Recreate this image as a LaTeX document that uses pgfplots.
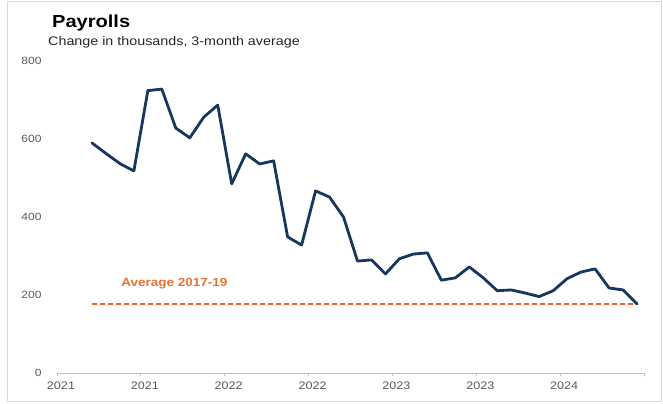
\documentclass[border=0pt]{standalone}
\usepackage{pgfplots}
\pgfplotsset{compat=1.18}
\usepackage{fontspec}
\setmainfont[FakeStretch=1.15]{Liberation Sans}
\definecolor{navy}{HTML}{17375E}
\definecolor{avgred}{RGB}{235,95,50}
\definecolor{orangetext}{HTML}{E97132}
\definecolor{ticktext}{HTML}{595959}
\definecolor{axisgray}{HTML}{BFBFBF}
\begin{document}
\begin{tikzpicture}[x=1bp,y=1bp]
\useasboundingbox (0,0) rectangle (663,403);
\draw[color=black!15, line width=1bp] (7,2) rectangle (661,401);
\node[anchor=base west, inner sep=0pt, font=\fontsize{17.5}{20}\selectfont\bfseries] at (52,376) {Payrolls};
\node[anchor=base west, inner sep=0pt, font=\fontsize{12.5}{14}\selectfont, text=black!85] at (48,358) {Change in thousands, 3-month average};
\begin{axis}[
  at={(57bp,30bp)}, anchor=south west,
  scale only axis, width=587bp, height=312bp,
  xmin=0, xmax=42, ymin=0, ymax=800,
  axis x line*=bottom, axis y line*=left,
  x axis line style={draw=axisgray, line width=1bp, -},
  y axis line style={draw=none},
  xtick={0,6,12,18,24,30,36,42},
  xticklabels={2021,2021,2022,2022,2023,2023,2024,},
  xtick style={draw=axisgray, line width=0.8bp},
  major tick length=3bp, tick align=outside,
  xticklabel style={font=\fontsize{11}{12}\selectfont, text=ticktext, xshift=4bp, yshift=-2bp},
  ytick={0,200,400,600,800},
  ytick style={draw=none},
  yticklabel style={font=\fontsize{10.5}{12}\selectfont, text=ticktext, xshift=-9bp},
  /pgf/number format/assume math mode=true,
  clip=false,
]
\addplot[color=avgred, solid, line width=2bp, dash pattern=on 5bp off 3bp, mark=none] coordinates {(2.5,178) (41.5,178)};
\addplot[color=navy, line width=2.8bp, line join=round, line cap=round, mark=none] coordinates {
(2.5,590)(3.5,563)(4.5,537)(5.5,518)(6.5,724)(7.5,728)(8.5,628)(9.5,603)(10.5,656)(11.5,687)
(12.5,485)(13.5,562)(14.5,536)(15.5,544)(16.5,349)(17.5,328)(18.5,467)(19.5,451)(20.5,400)(21.5,287)
(22.5,290)(23.5,254)(24.5,293)(25.5,305)(26.5,308)(27.5,238)(28.5,244)(29.5,272)(30.5,244)(31.5,211)
(32.5,213)(33.5,205)(34.5,196)(35.5,211)(36.5,242)(37.5,259)(38.5,267)(39.5,218)(40.5,213)(41.5,177)};
\node[anchor=base, font=\fontsize{11.8}{13}\selectfont\bfseries, text=orangetext] at (axis cs:8.4,222) {Average 2017-19};
\end{axis}
\end{tikzpicture}
\end{document}
